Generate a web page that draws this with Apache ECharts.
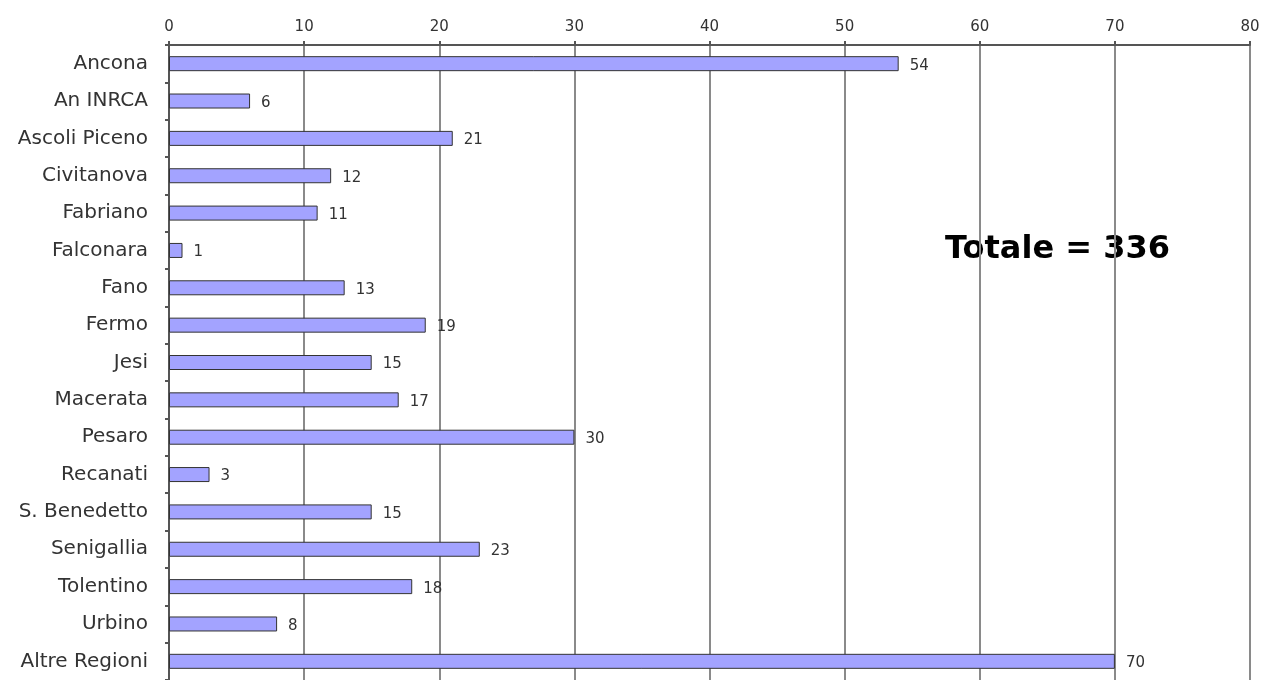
<!DOCTYPE html>
<html>
<head>
<meta charset="utf-8">
<script src="https://cdn.jsdelivr.net/npm/echarts@6/dist/echarts.min.js"></script>
<style>
  html, body { margin: 0; padding: 0; background: #fff; }
  #chart { width: 1265px; height: 680px; }
</style>
</head>
<body>
<div id="chart"></div>
<script>
// Sedi (dall'alto verso il basso)
const categories = [
  'Ancona', 'An INRCA', 'Ascoli Piceno', 'Civitanova', 'Fabriano', 'Falconara',
  'Fano', 'Fermo', 'Jesi', 'Macerata', 'Pesaro', 'Recanati', 'S. Benedetto',
  'Senigallia', 'Tolentino', 'Urbino', 'Altre Regioni'
];
const values = [54, 6, 21, 12, 11, 1, 13, 19, 15, 17, 30, 3, 15, 23, 18, 8, 70];
const totalLabel = 'Totale = 336';
const xTicks = { min: 0, max: 80, interval: 10 };

const FONT = '"DejaVu Sans"';

const chart = echarts.init(document.getElementById('chart'), null, { renderer: 'canvas' });

chart.setOption({
  animation: false,
  backgroundColor: '#ffffff',
  grid: { left: 169, right: 15, top: 45, height: 639, containLabel: false },
  xAxis: {
    type: 'value',
    position: 'top',
    min: xTicks.min,
    max: xTicks.max,
    interval: xTicks.interval,
    axisLine: { show: true, lineStyle: { color: '#555', width: 2 } },
    axisTick: { show: true, length: 4, lineStyle: { color: '#555', width: 2 } },
    axisLabel: { color: '#333', fontFamily: FONT, fontSize: 15, margin: 10 },
    splitLine: { show: true, lineStyle: { color: '#8a8a8a', width: 2 } }
  },
  yAxis: {
    type: 'category',
    inverse: true,
    data: categories,
    axisLine: { show: true, lineStyle: { color: '#555', width: 2 } },
    axisTick: { show: true, length: 4, lineStyle: { color: '#555', width: 2 } },
    axisLabel: { color: '#333', fontFamily: FONT, fontSize: 20, margin: 21 }
  },
  series: [{
    type: 'bar',
    data: values,
    barWidth: 15,
    itemStyle: { color: '#a3a3ff', borderColor: '#333', borderWidth: 1 },
    label: {
      show: true,
      position: 'right',
      distance: 11,
      color: '#333',
      fontFamily: FONT,
      fontSize: 15,
      offset: [0, 2]
    }
  }],
  graphic: [{
    type: 'text',
    x: 945,
    y: 250,
    style: {
      text: totalLabel,
      fill: '#000',
      font: 'bold 32px "DejaVu Sans"',
      verticalAlign: 'middle'
    }
  }]
});
</script>
</body>
</html>
